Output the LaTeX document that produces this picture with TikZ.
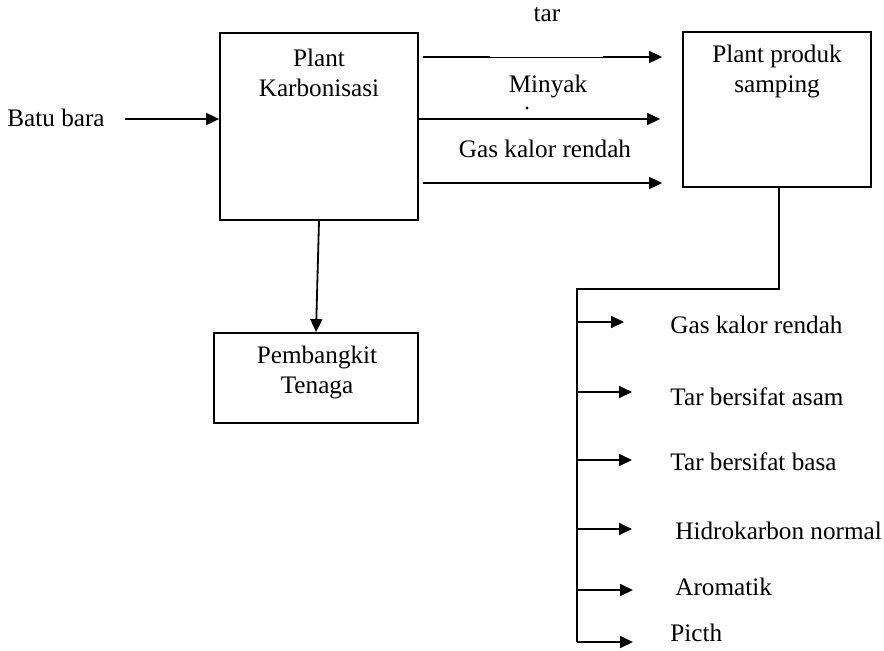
\documentclass[tikz,border=0pt]{standalone}
\usepackage{fontspec}
\setmainfont{Liberation Serif}
\usetikzlibrary{arrows.meta}

\begin{document}
\begin{tikzpicture}[x=0.5pt,y=-0.5pt,
  box/.style={draw,line width=.9pt,inner sep=0pt},
  txt/.style={align=center,font=\fontsize{12.6}{15}\selectfont,inner sep=1pt},
  line/.style={line width=.9pt},
  flow/.style={line width=.9pt,-{Triangle[length=6.5pt,width=6pt]}}]
\useasboundingbox (0,0) rectangle (884,650);
% ---- boxes
\node[box,minimum width=99pt,minimum height=93.5pt] (karbon) at (319,126.5) {};
\node[box,minimum width=94pt,minimum height=77.5pt] (produk) at (777,109.5) {};
\node[box,minimum width=102pt,minimum height=45pt] (pembangkit) at (316,378) {};
% ---- box texts
\node[txt] (karbontxt) at (319,73) {Plant\\Karbonisasi};
\node[txt] (produktxt) at (777,71) {Plant produk\\samping};
\node[txt] (pembangkittxt) at (317,372) {Pembangkit\\Tenaga};
% ---- input
\node[txt] (batu) at (56,118) {Batu bara};
\draw[flow] ([xshift=9pt]batu.east |- 0,119) -- (karbon.west |- 0,119);
% ---- streams to plant produk samping
\node[txt] (tar) at (547,15) {tar};
\node[txt] (minyak) at (548,86) {Minyak};
\node[txt] (gkr) at (545,149) {Gas kalor rendah};
\fill (527,108) circle (0.8pt);
\coordinate (tarA) at (490,57); \coordinate (tarB) at (603,57);
\draw[line] ([xshift=2pt]karbon.east |- tarA) -- (tarA);
\draw[line width=.45pt] (tarA) -- (tarB);
\draw[flow] (tarB) -- ([xshift=-10pt]produk.west |- tarB);
\draw[flow] (karbon.east |- 0,119) -- ([xshift=-11pt]produk.west |- 0,119);
\draw[flow] ([xshift=2pt]karbon.east |- 0,183) -- ([xshift=-10pt]produk.west |- 0,183);
% ---- to pembangkit
\draw[flow] (karbon.south) -- (pembangkit.north);
% ---- products
\coordinate (split) at (577,289);
\coordinate (bottom) at (577,642);
\draw[line] ([xshift=1pt]produk.south) |- (split) -- (bottom);
\foreach \yb/\xt/\yt/\xl/\nm/\txt in {
  322/624/325/668/outgas/Gas kalor rendah,
  392/632/397/668/outasam/Tar bersifat asam,
  460/632/462/668/outbasa/Tar bersifat basa,
  529/632/531/673/outhidro/Hidrokarbon normal,
  590/633/587/673/outarom/Aromatik,
  642/633/633/668/outpitch/Picth}{
  \coordinate (\nm end) at (\xt,\yb);
  \node[txt,anchor=west] (\nm) at (\xl,\yt) {\txt};
  \draw[flow] (split |- \nm end) -- (\nm end);
}
\end{tikzpicture}
\end{document}
